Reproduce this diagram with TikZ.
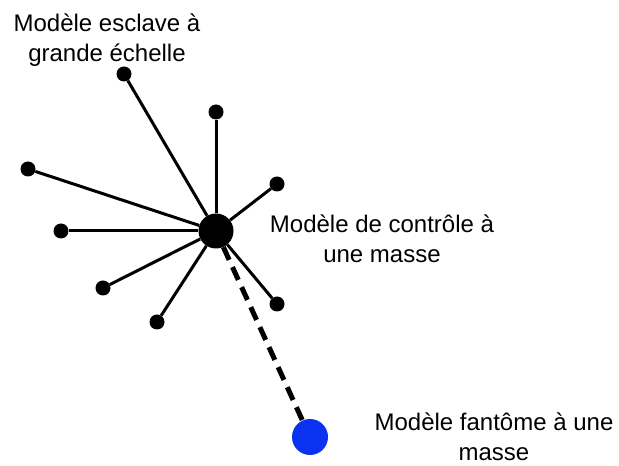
\documentclass[tikz,border=0pt]{standalone}
\usepackage{fontspec}
\setmainfont{Liberation Sans}
\definecolor{phantomblue}{RGB}{10,50,240}
\begin{document}
\begin{tikzpicture}[x=1pt, y=1pt,
  every node/.style={font={\fontsize{24}{29.5}\selectfont}, inner sep=0pt},
  dot/.style={circle, fill=black, minimum size=15pt},
  hub/.style={circle, fill=black, minimum size=35pt},
  phantom/.style={circle, fill=phantomblue, minimum size=36pt},
  caption/.style={align=center},
  link/.style={draw=black, line width=3pt},
  ghostlink/.style={draw=black, line width=5pt, dash pattern=on 14pt off 8pt}]
\useasboundingbox (0,0) rectangle (619,466);
\node[hub] (hub) at (216,235) {};
\node[dot] (s1) at (124,392) {};
\node[dot] (s2) at (216,354) {};
\node[dot] (s3) at (277,282) {};
\node[dot] (s4) at (28,297) {};
\node[dot] (s5) at (61,235) {};
\node[dot] (s6) at (103,178) {};
\node[dot] (s7) at (157,144) {};
\node[dot] (s8) at (277,162) {};
\node[phantom] (ghost) at (310,29) {};
\node[caption] (slave) at (107,426) {Modèle esclave à\\grande échelle};
\node[caption] (control) at (382,227) {Modèle de contrôle à\\une masse};
\node[caption] (phantomlabel) at (494,29) {Modèle fantôme à une\\masse};
\path[link] (hub) -- (s1);
\path[link] (hub) -- (s2);
\path[link] (hub) -- (s3);
\path[link] (hub) -- (s4);
\path[link] (hub) -- (s5);
\path[link] (hub) -- (s6);
\path[link] (hub) -- (s7);
\path[link] (hub) -- (s8);
\path[ghostlink] (hub) -- (ghost);
\end{tikzpicture}
\end{document}
